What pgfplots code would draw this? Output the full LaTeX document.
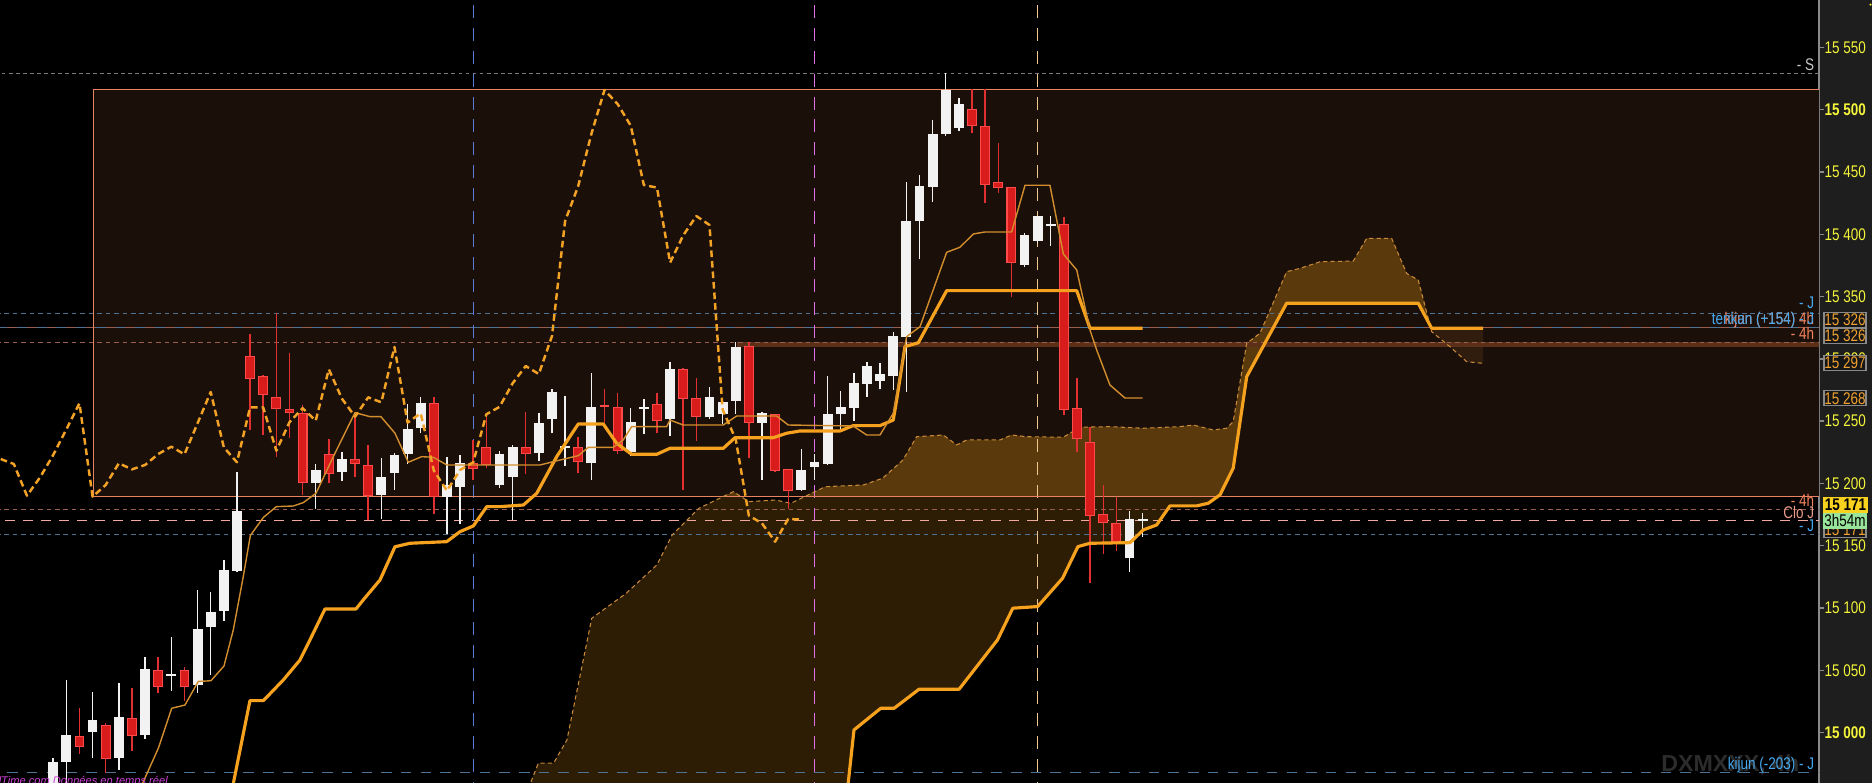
\documentclass[border=0pt]{standalone}
\usepackage{fontspec}
\setmainfont{Liberation Sans}
\usepackage{graphicx}
\usepackage{pgfplots}
\pgfplotsset{compat=1.18}
\usepackage{pgfplotstable}

\definecolor{rectfill}{HTML}{1B0F0A}
\definecolor{rectline}{HTML}{E8825F}
\definecolor{cloudA}{HTML}{2D1D05}
\definecolor{cloudB}{HTML}{5A3A0C}
\definecolor{cloudC}{HTML}{301D0D}
\definecolor{cloudedge}{HTML}{C88A3A}
\definecolor{kij}{HTML}{F7A21E}
\definecolor{ten}{HTML}{D28E2C}
\definecolor{chik}{HTML}{F2A224}
\definecolor{cwhite}{HTML}{F2F2F2}
\definecolor{cred}{HTML}{D81C1C}
\definecolor{credb}{HTML}{FF4A4A}
\definecolor{wickred}{HTML}{E23030}
\definecolor{band}{HTML}{5C3018}
\definecolor{lgray}{HTML}{7A7A7A}
\definecolor{jblue}{HTML}{4D7294}
\definecolor{salm}{HTML}{9A5E4E}
\definecolor{pinkd}{HTML}{F0A8A0}
\definecolor{vblue}{HTML}{5A7AD8}
\definecolor{vmag}{HTML}{E070E8}
\definecolor{vorg}{HTML}{F0C890}
\definecolor{lblue}{HTML}{45A8EE}
\definecolor{lsalm}{HTML}{F4845C}
\definecolor{lpink}{HTML}{E89A88}
\definecolor{ltext}{HTML}{C8C8C8}
\definecolor{tickyel}{HTML}{F4F43A}
\definecolor{panel}{HTML}{1E1E1E}
\definecolor{axisgray}{HTML}{8A8A8A}
\definecolor{boxdark}{HTML}{161616}
\definecolor{boxorange}{HTML}{F0A030}
\definecolor{boxyel}{HTML}{F8D21E}
\definecolor{boxgreen}{HTML}{98E49A}
\definecolor{mag}{HTML}{D040D8}
\definecolor{wm}{HTML}{2C2C2C}

\newcommand{\lbl}{\fontsize{4.8}{5.4}\selectfont}
\newcommand{\sq}[1]{\scalebox{0.8}[1]{#1}}

% candles: bar index, open, high, low, close
\pgfplotstableread{
i o h l c
0 14950 14979.4 14940 14976.8
1 14976.8 15042.3 14950 14998.2
3 15000.8 15032.4 14980.0 15010.2
5 14980.0 15039.6 14970.1 15012.9
7 14998.2 15060.5 14995.0 15051.1
9 15045.5 15076.5 15033.7 15047.1
11 15038.3 15114.5 15032.1 15082.9
12 15085.1 15112.7 15046.3 15096.6
13 15097.9 15138.6 15089.9 15130.6
14 15130.0 15209.0 15129.2 15177.9
20 15200.6 15215.6 15179.3 15210.8
22 15209.5 15225.3 15202.3 15219.6
25 15190.8 15220.2 15171.2 15204.9
26 15208.7 15224.2 15194.8 15222.8
27 15223.4 15263.5 15215.4 15243.4
28 15244.2 15269.6 15240.2 15264.3
30 15189.4 15221.5 15159.5 15198.8
31 15197.4 15222.8 15167.5 15216.2
34 15198.8 15226.0 15196.0 15223.6
35 15205.5 15230.9 15170.7 15229.5
37 15224.7 15256.3 15218.3 15248.3
38 15251.5 15275.5 15240.2 15273.4
39 15228.2 15270.2 15214.3 15229.8
41 15216.2 15288.4 15202.8 15261.1
44 15225.5 15260.3 15222.0 15249.1
45 15259.8 15267.5 15239.7 15261.4
47 15252.0 15297.5 15238.1 15291.6
50 15253.1 15277.1 15252.0 15269.1
51 15256.0 15268.0 15247.7 15265.1
52 15266.4 15313.5 15255.7 15309.5
54 15248.3 15257.6 15202.8 15256.3
57 15194.8 15227.4 15194.2 15210.8
58 15213.5 15223.6 15202.8 15217.0
59 15215.6 15286.2 15214.8 15255.5
60 15255.7 15274.5 15242.9 15261.4
61 15260.8 15288.9 15250.4 15280.3
62 15279.8 15297.7 15269.6 15294.2
63 15282.5 15296.9 15275.5 15287.8
64 15286.2 15321.5 15275.0 15318.3
65 15317.8 15441.6 15273.7 15410.6
66 15410.6 15447.5 15380.1 15438.7
67 15438.2 15491.7 15426.1 15480.4
68 15480.4 15529.1 15478.8 15515.7
69 15485.3 15509.0 15482.8 15504.5
74 15375.3 15401.3 15374.0 15399.1
75 15394.6 15414.6 15393.2 15414.6
76 15406.6 15414.6 15390.8 15408.2
82 15139.9 15177.9 15129.2 15171.5
83 15170.2 15176.0 15157.3 15171.8
}\whiteC

\pgfplotstableread{
i o h l c
2 14997.4 15019.6 14982.9 14988.8
4 15006.2 15008.0 14967.9 14978.9
6 15011.5 15035.6 14985.6 14997.6
8 15050.3 15060.5 15032.1 15036.4
10 15050.3 15052.5 15025.7 15037.0
15 15302.3 15319.9 15242.9 15284.1
16 15286.2 15287.0 15238.9 15271.2
17 15269.4 15336.5 15221.0 15259.5
18 15259.7 15304.9 15236.2 15256.3
19 15256.8 15263.0 15190.8 15200.1
21 15223.6 15235.4 15200.1 15207.6
23 15219.6 15257.6 15204.9 15215.6
24 15214.8 15230.6 15170.7 15190.2
29 15264.3 15269.1 15175.5 15189.4
32 15216.2 15234.9 15202.8 15211.3
33 15229.0 15256.3 15212.0 15214.8
36 15229.3 15257.1 15207.6 15223.4
40 15229.0 15237.5 15208.1 15217.0
42 15262.6 15275.5 15247.0 15261.0
43 15261.1 15272.3 15223.6 15226.3
46 15263.5 15272.3 15240.2 15250.4
48 15292.1 15292.5 15194.8 15268.0
49 15268.3 15284.4 15234.3 15253.6
53 15310.3 15313.5 15220.2 15248.8
55 15255.5 15256.0 15209.0 15210.3
56 15211.3 15211.5 15179.3 15194.2
70 15500.2 15516.3 15481.0 15487.1
71 15486.9 15516.3 15425.3 15439.5
72 15441.6 15472.9 15433.4 15437.4
73 15437.6 15437.6 15349.4 15377.2
77 15408.2 15413.6 15255.0 15259.3
78 15260.3 15285.0 15225.0 15235.4
79 15233.0 15245.6 15119.9 15174.2
80 15175.2 15198.5 15143.1 15168.0
81 15168.0 15188.9 15145.8 15153.3
}\redC

\pgfplotsset{candle/.style={forget plot, only marks, mark=*, mark size=0pt,
  mark options={draw=none, fill=none},
  error bars/.cd, y dir=plus, y explicit, error mark=none}}

\begin{document}
\begin{tikzpicture}
\useasboundingbox (0,0) rectangle (18.72,7.83);
\clip (0,0) rectangle (18.72,7.83);
\fill[black] (0,0) rectangle (18.19,7.83);
\fill[panel] (18.19,0) rectangle (18.72,7.83);
\node[anchor=base east, font=\bfseries\fontsize{6.6}{7}\selectfont, text=wm, inner sep=0pt] at (18.0,0.113) {DXMXXX, 4h};

\begin{axis}[
  at={(0,0)}, anchor=south west,
  scale only axis, width=18.19cm, height=7.83cm,
  xmin=-4.053, xmax=134.53, ymin=14959.64, ymax=15587.96,
  axis x line=none, axis y line=right,
  y axis line style={draw=axisgray, line width=0.4pt, -},
  ytick={15000,15050,...,15550},
  yticklabels={\sq{\textbf{15 000}},\sq{15 050},\sq{15 100},\sq{15 150},\sq{15 200},\sq{15 250},\sq{15 300},\sq{15 350},\sq{15 400},\sq{15 450},\sq{\textbf{15 500}},\sq{15 550}},
  tick style={draw=axisgray, line width=0.4pt},
  tick align=outside, major tick length=0.05cm,
  yticklabel style={font=\lbl, text=tickyel, inner sep=0pt, anchor=west},
  yticklabel shift=0pt,
  clip=true,
]

% 4h zone
\fill[rectfill] (axis cs:3.05,15189.4) rectangle (axis cs:134.6,15516.3);

% cloud
\addplot[fill=cloudA, draw=none, forget plot] coordinates {
(34.97,14922) (36.37,14959.7) (36.96,14975.5) (38.12,14975.5) (39.14,14994.2) (41.03,15091.8)
(43.66,15111.9) (45.99,15134.6) (47.16,15158.7) (49.2,15180.1) (51.82,15193.4) (53.0,15185.4)
(55.03,15186.7) (56.2,15184.1) (58.82,15197.4) (61.74,15198.8) (63.19,15204.2) (64.74,15218.8)
(65.78,15237.5) (67.81,15238.9) (68.83,15230.9) (69.6,15234.9) (72.13,15234.9) (73.02,15238.9)
(74.17,15237.5) (76.96,15237.1) (78.23,15245.1) (80.51,15245.6) (83.05,15244.3) (85.84,15245.6)
(86.86,15246.9) (88.38,15242.9) (89.4,15244.3) (89.9,15249.6) (90.93,15312.5) (91.94,15320.5)
(93.97,15369.9) (94.99,15372.6) (96.51,15377.9) (99.05,15378.5) (100.07,15396.7) (101.97,15396.7)
(103.12,15368.5) (104.0,15363.2) (104.89,15327.1) (104.0,15344.6) (93.97,15344.6) (90.93,15285.7)
(89.9,15212.2) (88.89,15190.8) (88.0,15184.1) (87.12,15182.0) (85.08,15182.0) (84.07,15166.7)
(83.05,15162.7) (82.04,15152.5) (78.99,15152.0) (78.07,15149.3) (76.9,15123.9) (75.0,15101.2)
(73.11,15099.9) (71.94,15074.4) (69.02,15034.9) (65.97,15034.9) (64.07,15019.6) (63.05,15019.6)
(61.01,15002.2) (60.57,14959.7) (60.19,14922)} --cycle;

\addplot[fill=cloudB, draw=none, forget plot] coordinates {
(57.24,15189.4) (58.82,15197.4) (61.74,15198.8) (63.19,15204.2) (64.74,15218.8)
(65.78,15237.5) (67.81,15238.9) (68.83,15230.9) (69.6,15234.9) (72.13,15234.9) (73.02,15238.9)
(74.17,15237.5) (76.96,15237.1) (78.23,15245.1) (80.51,15245.6) (83.05,15244.3) (85.84,15245.6)
(86.86,15246.9) (88.38,15242.9) (89.4,15244.3) (89.9,15249.6) (90.93,15312.5) (91.94,15320.5)
(93.97,15369.9) (94.99,15372.6) (96.51,15377.9) (99.05,15378.5) (100.07,15396.7) (101.97,15396.7)
(103.12,15368.5) (104.0,15363.2) (104.89,15327.1) (104.0,15344.6) (93.97,15344.6) (90.93,15285.7)
(89.9,15212.2) (88.89,15190.8) (88.7,15189.4)} --cycle;

\addplot[fill=cloudB, draw=none, forget plot] coordinates {
(51.03,15189.4) (51.82,15193.4) (52.41,15189.4)} --cycle;

\addplot[fill=cloudC, draw=none, forget plot] coordinates {
(104.89,15327.1) (105.02,15321.8) (106.42,15309.7) (107.69,15297.7) (108.95,15296.4)
(108.95,15324.5) (105.02,15324.5)} --cycle;

% zone band
\fill[band] (axis cs:52.07,15309.8) rectangle (axis cs:134.6,15313.8);

% horizontal levels
\draw[lgray, line width=0.3pt, dash pattern=on 1.1pt off 0.9pt] (axis cs:-5,15529.1) -- (axis cs:135,15529.1);
\draw[jblue, line width=0.3pt, dash pattern=on 1.3pt off 1.1pt] (axis cs:-5,15336.6) -- (axis cs:135,15336.6);
\draw[salm, line width=0.35pt, dash pattern=on 2.8pt off 2.8pt] (axis cs:-5,15325.0) -- (axis cs:135,15325.0);
\draw[jblue, line width=0.35pt, dash pattern=on 2.8pt off 2.8pt, dash phase=2.8pt] (axis cs:-5,15325.0) -- (axis cs:135,15325.0);
\draw[salm, line width=0.3pt, dash pattern=on 1.3pt off 1.1pt] (axis cs:-5,15313.3) -- (axis cs:135,15313.3);
\draw[salm, line width=0.3pt, dash pattern=on 1.3pt off 1.1pt] (axis cs:-5,15179.3) -- (axis cs:135,15179.3);
\draw[pinkd, line width=0.35pt, dash pattern=on 2.8pt off 2.3pt] (axis cs:-5,15170.4) -- (axis cs:135,15170.4);
\draw[jblue, line width=0.3pt, dash pattern=on 1.3pt off 1.1pt] (axis cs:-5,15159.2) -- (axis cs:135,15159.2);
\draw[jblue, line width=0.35pt, dash pattern=on 3pt off 2.6pt] (axis cs:-5,14967.9) -- (axis cs:135,14967.9);

% vertical markers
\draw[vblue, line width=0.3pt, dash pattern=on 3.7pt off 2.8pt] (axis cs:32.0,14950) -- (axis cs:32.0,15600);
\draw[vmag, line width=0.3pt, dash pattern=on 3.7pt off 2.8pt] (axis cs:57.98,14950) -- (axis cs:57.98,15600);
\draw[vorg, line width=0.3pt, dash pattern=on 3.7pt off 2.8pt] (axis cs:74.97,14950) -- (axis cs:74.97,15600);

% zone border
\draw[rectline, line width=0.37pt] (axis cs:135,15516.3) -- (axis cs:3.05,15516.3) -- (axis cs:3.05,15189.4) -- (axis cs:135,15189.4);

% senkou A edge
\addplot[cloudedge, line width=0.3pt, dash pattern=on 1.2pt off 0.9pt, forget plot] coordinates {
(34.97,14922) (36.37,14959.7) (36.96,14975.5) (38.12,14975.5) (39.14,14994.2) (41.03,15091.8)
(43.66,15111.9) (45.99,15134.6) (47.16,15158.7) (49.2,15180.1) (51.82,15193.4) (53.0,15185.4)
(55.03,15186.7) (56.2,15184.1) (58.82,15197.4) (61.74,15198.8) (63.19,15204.2) (64.74,15218.8)
(65.78,15237.5) (67.81,15238.9) (68.83,15230.9) (69.6,15234.9) (72.13,15234.9) (73.02,15238.9)
(74.17,15237.5) (76.96,15237.1) (78.23,15245.1) (80.51,15245.6) (83.05,15244.3) (85.84,15245.6)
(86.86,15246.9) (88.38,15242.9) (89.4,15244.3) (89.9,15249.6) (90.93,15312.5) (91.94,15320.5)
(93.97,15369.9) (94.99,15372.6) (96.51,15377.9) (99.05,15378.5) (100.07,15396.7) (101.97,15396.7)
(103.12,15368.5) (104.0,15363.2) (105.02,15321.8) (106.42,15309.7) (107.69,15297.7) (108.95,15296.4)};

% candles: wicks
\addplot[candle, error bar style={line width=0.42pt, draw=cwhite}]
  table[x=i, y=l, y error plus expr={\thisrow{h}-\thisrow{l}}] {\whiteC};
\addplot[candle, error bar style={line width=0.42pt, draw=wickred}]
  table[x=i, y=l, y error plus expr={\thisrow{h}-\thisrow{l}}] {\redC};
% candles: bodies
\addplot[candle, error bar style={line width=2.8pt, draw=cwhite}]
  table[x=i, y=o, y error plus expr={\thisrow{c}-\thisrow{o}}] {\whiteC};
\addplot[candle, error bar style={line width=2.8pt, draw=credb}]
  table[x=i, y=c, y error plus expr={\thisrow{o}-\thisrow{c}}] {\redC};
\addplot[candle, error bar style={line width=2.2pt, draw=cred}]
  table[x=i, y expr={\thisrow{c}+0.8}, y error plus expr={max(\thisrow{o}-\thisrow{c}-1.6,0)}] {\redC};

% senkou B (projected)
\addplot[kij, line width=0.9pt, line join=round, forget plot] coordinates {
(60.19,14922) (60.57,14959.7) (61.01,15002.2) (63.05,15019.6) (64.07,15019.6) (65.97,15034.9)
(69.02,15034.9) (71.94,15074.4) (73.11,15099.9) (75.0,15101.2) (76.9,15123.9) (78.07,15149.3)
(78.99,15152.0) (82.04,15152.5) (83.05,15162.7) (84.07,15166.7) (85.08,15182.0) (87.12,15182.0)
(88.0,15184.1) (88.89,15190.8) (89.9,15212.2) (90.93,15285.7) (93.97,15344.6) (104.0,15344.6)
(105.02,15324.5) (108.95,15324.5)};

% kijun
\addplot[kij, line width=0.9pt, line join=round, forget plot] coordinates {
(13.47,14946) (14.99,15025.7) (16.01,15025.7) (17.53,15042.3) (18.8,15058.3) (19.56,15074.4)
(20.71,15099.3) (23.07,15099.3) (23.62,15106.5) (24.9,15122.6) (26.04,15149.2) (27.18,15152.0)
(29.98,15153.3) (30.99,15161.3) (32.01,15165.9) (33.03,15181.4) (34.04,15181.4) (35.82,15182.7)
(36.84,15192.1) (38.36,15221.5) (40.0,15247.7) (41.91,15247.7) (42.93,15232.2) (44.07,15223.4)
(45.98,15223.4) (46.99,15228.2) (51.05,15228.2) (51.94,15236.7) (54.86,15236.7) (55.88,15240.3)
(56.89,15242.1) (59.94,15242.1) (60.95,15246.4) (62.99,15246.4) (64.0,15250.9) (64.26,15267.0)
(64.89,15309.8) (65.91,15312.9) (68.07,15354.7) (77.98,15354.7) (78.99,15324.5) (83.0,15324.5)};

% tenkan
\addplot[ten, line width=0.4pt, line join=round, forget plot] coordinates {
(6.2,14945) (8.01,14987.5) (9.03,15019.6) (10.04,15022.2) (11.05,15041.1) (12.02,15041.7)
(13.01,15053.5) (13.72,15082.4) (14.48,15125.2) (15.02,15158.2) (16.01,15172.7) (17.0,15181.4)
(18.29,15181.9) (19.05,15184.6) (20.02,15192.1) (21.34,15221.5) (22.99,15256.8) (24.14,15253.6)
(24.97,15253.6) (26.04,15240.3) (27.05,15217.0) (28.07,15221.5) (28.96,15221.0) (30.0,15214.8)
(37.09,15214.8) (38.1,15217.5) (40.0,15222.3) (40.77,15229.0) (42.67,15229.0) (43.43,15234.9)
(44.07,15245.6) (46.74,15245.6) (46.99,15250.9) (48.0,15246.9) (51.05,15246.9) (52.07,15254.1)
(55.12,15254.1) (56.0,15246.9) (60.95,15246.1) (61.97,15238.9) (62.99,15238.9) (64.0,15256.3)
(65.02,15317.8) (66.04,15325.8) (68.07,15385.5) (69.08,15389.5) (70.1,15400.2) (70.99,15401.8)
(73.02,15401.8) (74.04,15439.3) (75.94,15439.3) (76.96,15384.1) (77.98,15371.3) (78.99,15323.1)
(79.5,15307.1) (80.51,15279.0) (81.65,15268.6) (83.0,15268.6)};

% chikou
\addplot[chik, line width=0.7pt, dash pattern=on 1.9pt off 1.1pt, line join=round, forget plot] coordinates {
(-4,15219.6) (-3,15215.6) (-2,15190.2) (-1,15204.9) (0,15222.8) (1,15243.4) (2,15264.3) (3,15189.4)
(4,15198.8) (5,15216.2) (6,15211.3) (7,15214.8) (8,15223.6) (9,15229.5) (10,15223.4) (11,15248.3)
(12,15273.4) (13,15229.0) (14,15217.0) (15,15261.1) (16,15261.0) (17,15226.3) (18,15249.1) (19,15260.4)
(20,15250.4) (21,15291.6) (22,15268.0) (23,15253.6) (24,15269.1) (25,15265.1) (26,15309.5) (27,15248.8)
(28,15256.3) (29,15210.3) (30,15194.2) (31,15210.8) (32,15217.0) (33,15255.5) (34,15261.4) (35,15280.3)
(36,15294.2) (37,15287.8) (38,15318.3) (39,15410.6) (40,15438.7) (41,15480.4) (42,15515.7) (43,15504.5)
(44,15487.1) (45,15439.5) (46,15437.4) (47,15377.2) (48,15399.1) (49,15414.6) (50,15407.4) (51,15259.3)
(52,15235.4) (53,15174.2) (54,15168.0) (55,15153.3) (56,15171.5) (57,15171.0)};

% level labels
\node[anchor=east, font=\lbl, text=ltext, inner sep=0pt] at (axis cs:134.22,15536.4) {\sq{- S}};
\node[anchor=east, font=\lbl, text=lblue, inner sep=0pt] at (axis cs:134.22,15344.6) {\sq{- J}};
\node[anchor=east, font=\lbl, text=lsalm, inner sep=0pt] at (axis cs:134.22,15331.2) {\sq{kijun (+154) 4h}};
\node[anchor=east, font=\lbl, text=lblue, inner sep=0pt] at (axis cs:134.22,15331.2) {\sq{tenkan (+154) - J}};
\node[anchor=east, font=\lbl, text=lsalm, inner sep=0pt] at (axis cs:134.22,15320.5) {\sq{- 4h}};
\node[anchor=east, font=\lbl, text=lsalm, inner sep=0pt] at (axis cs:134.22,15186.7) {\sq{- 4h}};
\node[anchor=east, font=\lbl, text=lpink, inner sep=0pt] at (axis cs:134.22,15176.5) {\sq{Clo J}};
\node[anchor=east, font=\lbl, text=lblue, inner sep=0pt] at (axis cs:134.22,15165.9) {\sq{- J}};
\node[anchor=east, font=\lbl, text=lblue, inner sep=0pt] at (axis cs:134.22,14974.1) {\sq{kijun (-203) - J}};
\end{axis}

% price boxes on the scale
\tikzset{pbox/.style={draw=axisgray, line width=0.3pt, fill=boxdark, text=boxorange, font=\lbl,
  minimum width=0.42cm, minimum height=0.148cm, inner sep=0pt}}
\node[pbox] at (18.45,4.63) {\sq{15 326}};
\node[pbox] at (18.45,4.47) {\sq{15 326}};
\node[pbox] at (18.45,4.203) {\sq{15 297}};
\node[pbox] at (18.45,3.847) {\sq{15 268}};
\node[pbox] at (18.45,2.53) {\sq{15 171}};
\node[pbox, fill=boxyel, draw=boxyel, text=black, font=\lbl\bfseries, minimum width=0.44cm] at (18.455,2.78) {\sq{15 171}};
\node[pbox, fill=boxgreen, draw=boxgreen, text=black, minimum width=0.43cm] at (18.45,2.623) {\sq{3h54m}};

\node[anchor=base east, font=\itshape\fontsize{3.16}{3.8}\selectfont, text=mag, inner sep=0pt] at (1.685,-0.02) {ProRealTime.com Données en temps réel};
\end{tikzpicture}
\end{document}
